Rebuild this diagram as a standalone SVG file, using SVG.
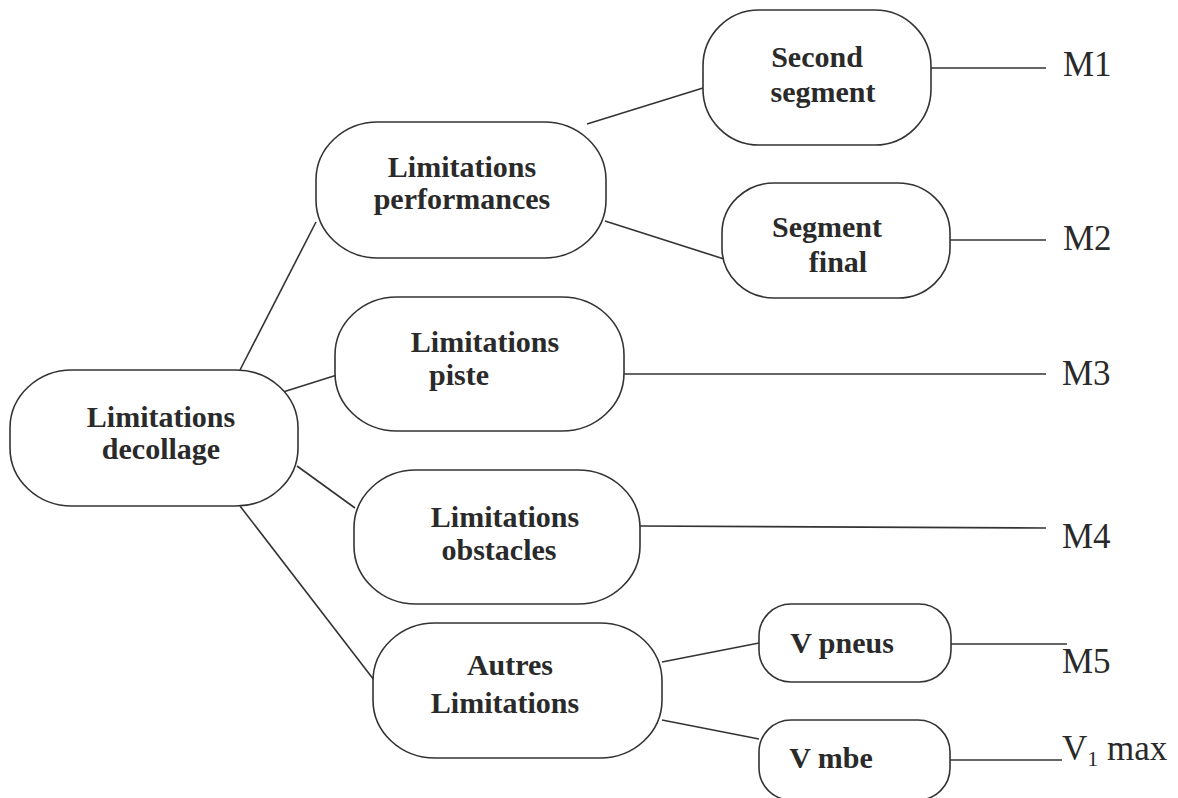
<svg xmlns="http://www.w3.org/2000/svg" width="1178" height="798" viewBox="0 0 1178 798">
<style>
.box{fill:#fff;stroke:#333;stroke-width:1.6}
.t{font-family:"Liberation Serif","Times New Roman",serif;font-weight:bold;font-size:30px;fill:#2a2a2a;text-anchor:middle}
.m{font-family:"Liberation Serif","Times New Roman",serif;font-size:35px;fill:#2a2a2a}
.c line{stroke:#333;stroke-width:1.6}
</style>
<rect width="1178" height="798" fill="#fff"/>
<g class="c" id="connectors">
<line x1="240" y1="370" x2="316" y2="222"/>
<line x1="283" y1="392" x2="337" y2="375"/>
<line x1="297" y1="466" x2="355" y2="508"/>
<line x1="240" y1="506" x2="374" y2="680"/>
<line x1="587" y1="124" x2="703" y2="88"/>
<line x1="605" y1="221" x2="724" y2="259"/>
<line x1="931" y1="68" x2="1046" y2="68"/>
<line x1="950" y1="240" x2="1046" y2="240"/>
<line x1="624" y1="374" x2="1046" y2="374"/>
<line x1="640" y1="526" x2="1046" y2="528"/>
<line x1="662" y1="662" x2="759" y2="643"/>
<line x1="662" y1="720" x2="759" y2="739"/>
<line x1="951" y1="644" x2="1067" y2="644"/>
<line x1="950" y1="760" x2="1062" y2="760"/>
</g>
<g id="n-decollage"><rect class="box" x="10" y="370" width="288" height="136" rx="62" ry="58"/>
<text class="t" x="161" y="427">Limitations</text><text class="t" x="161" y="459">decollage</text></g>
<g id="n-performances"><rect class="box" x="316" y="122" width="290" height="136" rx="62" ry="58"/>
<text class="t" x="462" y="177">Limitations</text><text class="t" x="462" y="209">performances</text></g>
<g id="n-second"><rect class="box" x="703" y="10" width="228" height="135" rx="56" ry="56"/>
<text class="t" x="817" y="67">Second</text><text class="t" x="823" y="102">segment</text></g>
<g id="n-final"><rect class="box" x="722" y="183" width="228" height="115" rx="52" ry="50"/>
<text class="t" x="827" y="237">Segment</text><text class="t" x="838" y="272">final</text></g>
<g id="n-piste"><rect class="box" x="335" y="297" width="289" height="134" rx="62" ry="58"/>
<text class="t" x="485" y="352">Limitations</text><text class="t" x="459" y="385">piste</text></g>
<g id="n-obstacles"><rect class="box" x="354" y="470" width="286" height="134" rx="62" ry="58"/>
<text class="t" x="505" y="527">Limitations</text><text class="t" x="499" y="560">obstacles</text></g>
<g id="n-autres"><rect class="box" x="373" y="623" width="289" height="135" rx="62" ry="58"/>
<text class="t" x="510" y="675">Autres</text><text class="t" x="505" y="713">Limitations</text></g>
<g id="n-vpneus"><rect class="box" x="759" y="604" width="192" height="78" rx="32" ry="32"/>
<text class="t" x="842" y="653">V pneus</text></g>
<g id="n-vmbe"><rect class="box" x="759" y="720" width="191" height="80" rx="32" ry="32"/>
<text class="t" x="831" y="768">V mbe</text></g>
<g id="labels">
<text class="m" x="1063" y="76">M1</text>
<text class="m" x="1063" y="250">M2</text>
<text class="m" x="1062" y="385">M3</text>
<text class="m" x="1062" y="548">M4</text>
<text class="m" x="1062" y="673">M5</text>
<text class="m" x="1062" y="760">V<tspan font-size="22" dy="6">1</tspan><tspan dy="-6"> max</tspan></text>
</g>
</svg>
